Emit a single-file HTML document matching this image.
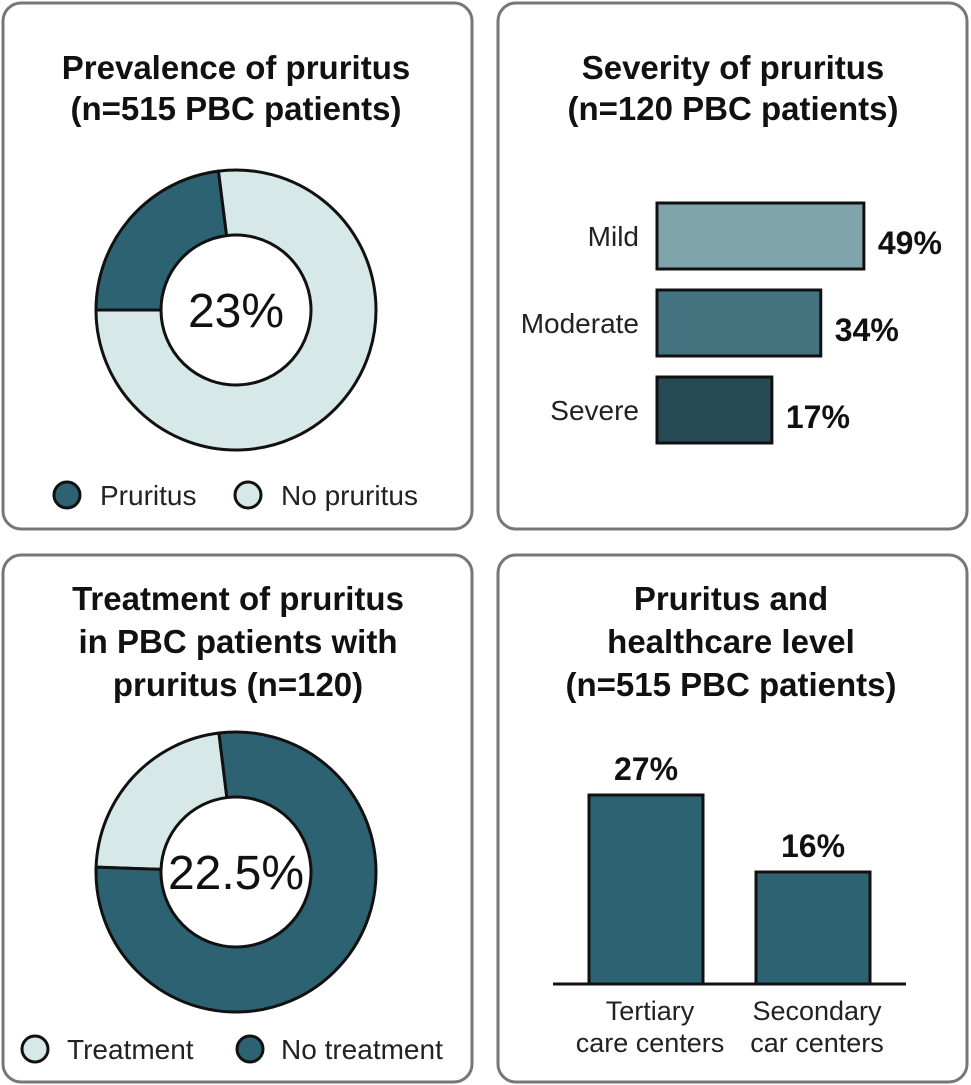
<!DOCTYPE html>
<html><head><meta charset="utf-8">
<style>
html,body{margin:0;padding:0;background:#fff;}
svg{display:block;font-family:"Liberation Sans",Arial,sans-serif;}
</style></head>
<body>
<svg id="c" width="971" height="1085" viewBox="0 0 971 1085">
  <rect x="3" y="3" width="469" height="526" rx="18" fill="#fff" stroke="#777" stroke-width="3"/>
  <rect x="498" y="3" width="469" height="526" rx="18" fill="#fff" stroke="#777" stroke-width="3"/>
  <rect x="3" y="555" width="469" height="527" rx="18" fill="#fff" stroke="#777" stroke-width="3"/>
  <rect x="498" y="555" width="469" height="527" rx="18" fill="#fff" stroke="#777" stroke-width="3"/>

  <g font-weight="bold" font-size="33" text-anchor="middle" fill="#111">
    <text x="236" y="79">Prevalence of pruritus</text>
    <text x="236" y="120">(n=515 PBC patients)</text>
    <text x="733" y="79">Severity of pruritus</text>
    <text x="733" y="120">(n=120 PBC patients)</text>
    <text x="238" y="610">Treatment of pruritus</text>
    <text x="238" y="653">in PBC patients with</text>
    <text x="238" y="696">pruritus (n=120)</text>
    <text x="731" y="610">Pruritus and</text>
    <text x="731" y="653">healthcare level</text>
    <text x="731" y="696">(n=515 PBC patients)</text>
  </g>

  <g id="d1"></g>
  <g id="d2"></g>
  <g id="sev"></g>
  <g id="hc"></g>

  <g font-size="28" fill="#222">
    <circle cx="67" cy="495" r="13" fill="#2d6272" stroke="#111" stroke-width="3"/>
    <text x="100" y="505">Pruritus</text>
    <circle cx="248" cy="495" r="13" fill="#d6e8e8" stroke="#111" stroke-width="3"/>
    <text x="281" y="505">No pruritus</text>
    <circle cx="35" cy="1049" r="13" fill="#d6e8e8" stroke="#111" stroke-width="3"/>
    <text x="67" y="1059">Treatment</text>
    <circle cx="250" cy="1049" r="13" fill="#2d6272" stroke="#111" stroke-width="3"/>
    <text x="281" y="1059">No treatment</text>
  </g>
</svg>
<script>
const prevLabels = ["Pruritus", "No pruritus"];
const prevValues = [23, 77];
const prevColors = ["#2d6272", "#d6e8e8"];
const treatLabels = ["Treatment", "No treatment"];
const treatValues = [22.5, 77.5];
const treatColors = ["#d6e8e8", "#2d6272"];
const sevCats = ["Mild", "Moderate", "Severe"];
const sevValues = [49, 34, 17];
const hcCats = [["Tertiary", "care centers"], ["Secondary", "car centers"]];
const hcValues = [27, 16];

const NS = "http://www.w3.org/2000/svg";
function mk(tag, attrs, parent) {
  const e = document.createElementNS(NS, tag);
  for (const k in attrs) e.setAttribute(k, attrs[k]);
  parent.appendChild(e);
  return e;
}
function pt(cx, cy, r, a) { const t = (a - 90) * Math.PI / 180; return [cx + r * Math.cos(t), cy + r * Math.sin(t)]; }
function donut(g, cx, cy, R, r, vals, cols, labels, startDeg, center, nm) {
  const total = vals.reduce((a, b) => a + b, 0);
  let a0 = startDeg;
  vals.forEach((v, i) => {
    const a1 = a0 + v / total * 360;
    const large = (a1 - a0) > 180 ? 1 : 0;
    const p1 = pt(cx, cy, R, a0), p2 = pt(cx, cy, R, a1), p3 = pt(cx, cy, r, a1), p4 = pt(cx, cy, r, a0);
    const d = `M${p1[0]},${p1[1]} A${R},${R} 0 ${large} 1 ${p2[0]},${p2[1]} L${p3[0]},${p3[1]} A${r},${r} 0 ${large} 0 ${p4[0]},${p4[1]} Z`;
    const p = mk("path", {d: d, fill: cols[i], stroke: "#111", "stroke-width": 3, "stroke-linejoin": "round"}, g);
    
    
    a0 = a1;
  });
  const t = mk("text", {x: cx, y: cy + 17, "text-anchor": "middle", "font-size": 48, fill: "#111"}, g);
  t.textContent = center;
  
  
}
donut(document.getElementById("d1"), 236, 310, 140, 75, prevValues, prevColors, prevLabels, 270, prevValues[0] + "%", "prevalence");
donut(document.getElementById("d2"), 236, 872, 140, 75, treatValues, treatColors, treatLabels, 272, treatValues[0] + "%", "treatment");

// severity horizontal bars
const sevG = document.getElementById("sev");
const sevCols = ["#7fa4ab", "#44737f", "#284a55"];
const sx0 = 657;
function sx(v) { return sx0 + 66 + 2.875 * v; }
const sy0 = 203, sstep = 87, sh = 66;
sevValues.forEach((v, i) => {
  const y = sy0 + i * sstep;
  const r = mk("rect", {x: sx0, y: y, width: sx(v) - sx0, height: sh, fill: sevCols[i], stroke: "#111", "stroke-width": 3}, sevG);
  
  
  const l = mk("text", {x: sx0 - 18, y: y + sh / 2 + 10, "text-anchor": "end", "font-size": 28, fill: "#222"}, sevG);
  l.textContent = sevCats[i];
  
  
  const t = mk("text", {x: sx(v) + 14, y: y + sh / 2 + 18, "font-size": 32, "font-weight": "bold", fill: "#111"}, sevG);
  t.textContent = v + "%";
  
  
});

// healthcare vertical bars
const hcG = document.getElementById("hc");
const base = 984;
function hy(v) { return base - 7.0 * v; }
const hcX = [589, 756], hcW = 114;
hcValues.forEach((v, i) => {
  const r = mk("rect", {x: hcX[i], y: hy(v), width: hcW, height: base - hy(v), fill: "#2d6272", stroke: "#111", "stroke-width": 3}, hcG);
  
  
  const t = mk("text", {x: hcX[i] + hcW / 2, y: hy(v) - 15, "text-anchor": "middle", "font-size": 32, "font-weight": "bold", fill: "#111"}, hcG);
  t.textContent = v + "%";
  
  
  hcCats[i].forEach((line, j) => {
    const l = mk("text", {x: hcX[i] + hcW / 2 + 4, y: 1020 + j * 32, "text-anchor": "middle", "font-size": 27, fill: "#222"}, hcG);
    l.textContent = line;
    
    
  });
});
const ax = mk("line", {x1: 553, y1: base, x2: 906, y2: base, stroke: "#111", "stroke-width": 3}, hcG);


</script>
</body></html>
